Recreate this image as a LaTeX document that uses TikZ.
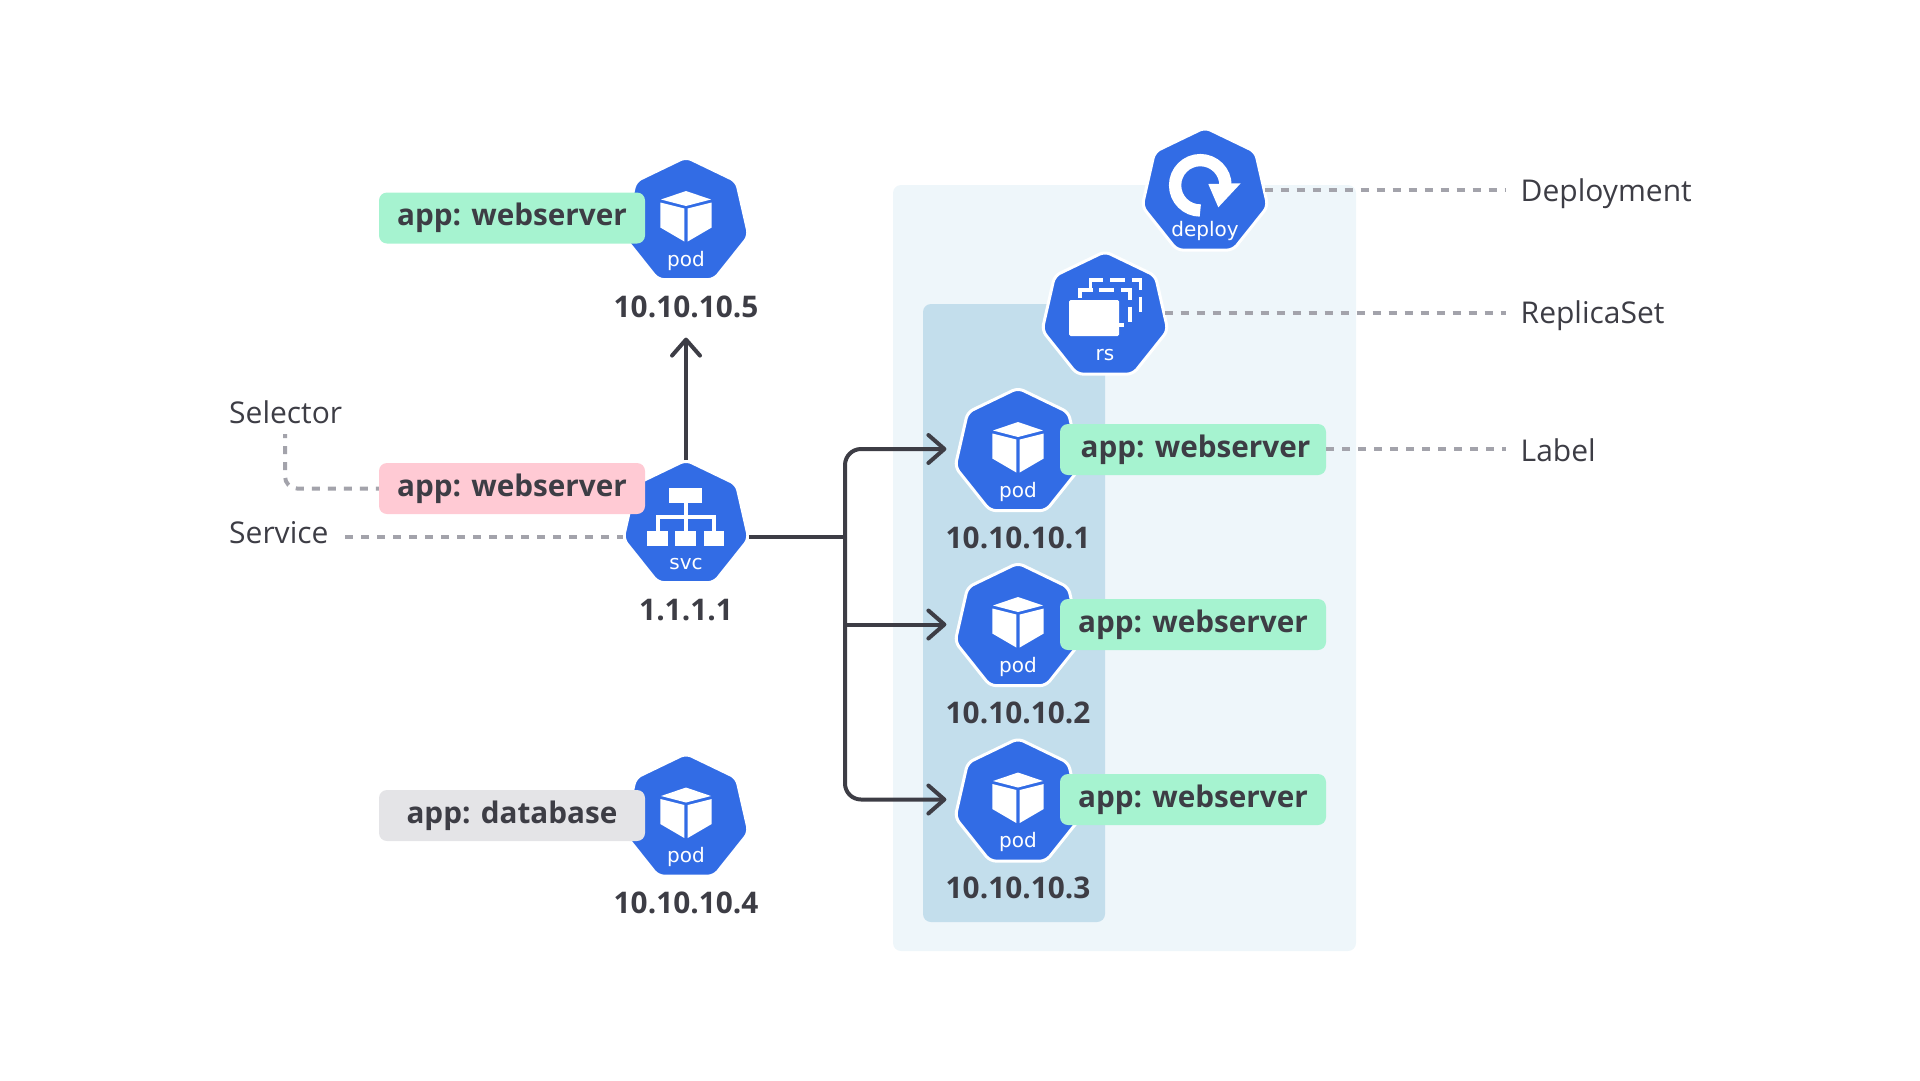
\documentclass[tikz,border=0pt]{standalone}
\usepackage{fontspec}
\setmainfont{Open Sans}
\newfontfamily\iconfont{DejaVu Sans}
\usetikzlibrary{arrows.meta,shapes.geometric}
\definecolor{kblue}{HTML}{326CE5}
\definecolor{kink}{HTML}{3D3D45}
\definecolor{kdash}{HTML}{A3A3AB}
\definecolor{kouter}{HTML}{EEF6FA}
\definecolor{kinner}{HTML}{C3DEEC}
\definecolor{kgreen}{HTML}{A6F3D0}
\definecolor{kpink}{HTML}{FFCAD4}
\definecolor{kgrey}{HTML}{E4E4E7}
\tikzset{
	hept/.style={regular polygon,regular polygon sides=7,minimum size=129pt,inner sep=0pt,outer sep=0pt,fill=kblue,draw=white,line width=3pt,rounded corners=6pt},
	hepttxt/.style={anchor=base,inner sep=0pt,text=white,font=\iconfont\fontsize{20}{24}\selectfont},
	applabel/.style={rounded corners=8pt,minimum width=266pt,minimum height=51pt,inner sep=0pt,text height=24pt,text depth=8.4pt,text=kink,font=\bfseries\fontsize{29.7}{36}\selectfont},
	iptxt/.style={anchor=base,inner sep=0pt,text=kink,font=\bfseries\fontsize{29.8}{36}\selectfont},
	calltxt/.style={anchor=base west,inner sep=0pt,text=kink,font=\fontsize{30}{36}\selectfont},
	dashline/.style={draw=kdash,line width=4pt,dash pattern=on 8pt off 8pt},
	flowline/.style={draw=kink,line width=4pt},
	flowarrow/.style={flowline,-{Straight Barb[length=16pt,width=28pt,line width=4pt,round]}},
	iconline/.style={draw=white,line width=3.3pt,dash pattern=on 20.6pt off 6.7pt on 15pt off 6.7pt on 19pt off 6.7pt on 15pt off 6.7pt}
}
% cube and caption of a pod
\newcommand{\podicon}[1]{
	\begin{scope}[shift={(#1.center)},fill=white]
		\fill (0,-30.5) -- (25,-22) -- (0,-15.5) -- (-25,-22) -- cycle;
		\fill (-25.7,-19) -- (-1.7,-13) -- (-1.7,20) -- (-25.7,6) -- cycle;
		\fill (25.7,-19) -- (1.7,-13) -- (1.7,20) -- (25.7,6) -- cycle;
	\end{scope}
	\node[hepttxt] (#1txt) at ([yshift=-44.5pt]#1.center) {pod};
}
\begin{document}
\begin{tikzpicture}[x=1pt,y=-1pt]
	\useasboundingbox (0,0) rectangle (1920,1080);
	
	% namespace boxes
	\fill[kouter,rounded corners=8pt] (893,185) rectangle (1356,951);
	\fill[kinner,rounded corners=8pt] (923,304) rectangle (1105,922);
	
	\coordinate (deploycall) at (1506,190);
	\coordinate (rscall) at (1506,313);
	\coordinate (labelcall) at (1506,449);
	\coordinate (selcall) at (285,434);
	\coordinate (svccall) at (345,537);
	\coordinate (trunk) at (845,537);
	
	\node[hept] (podE) at (686,221.5) {};
	\node[hept] (podD) at (686,818) {};
	\node[hept] (svc) at (686,524.5) {};
	\node[hept] (deploy) at (1205,192) {};
	\node[hept] (rs) at (1105,316) {};
	\node[hept] (podA) at (1018,452.5) {};
	\node[hept] (podB) at (1018,627.5) {};
	\node[hept] (podC) at (1018,803) {};
	
	\podicon{podE}
	\podicon{podD}
	\podicon{podA}
	\podicon{podB}
	\podicon{podC}
	
	% service icon
	\fill[white] (669.3,488.3) rectangle (702.3,502.7);
	\fill[white] (684,502.7) rectangle (688,531);
	\fill[white] (656,515) rectangle (715.7,519);
	\fill[white] (656,515) rectangle (659.5,531);
	\fill[white] (712.2,515) rectangle (715.7,531);
	\fill[white] (647.3,531) rectangle (668,546);
	\fill[white] (675.3,531) rectangle (696.3,546);
	\fill[white] (703.7,531) rectangle (724.3,546);
	\node[hepttxt] (svctxt) at (686,569) {svc};
	
	% deployment icon
	\draw[white,line width=12.3pt] (1200.3,210.5) arc[start angle=90,end angle=360,radius=25.2];
	\fill[white] (1208.3,184) -- (1240.7,183.3) -- (1218.3,207.3) -- cycle;
	\node[hepttxt] (deploytxt) at (1205,236.7) {deploy};
	
	% replicaset icon
	\draw[iconline] (1090.7,288) -- (1090.7,280) -- (1140.7,280) -- (1140.7,312);
	\draw[iconline] (1080,298) -- (1080,290) -- (1130,290) -- (1130,322);
	\draw[white,line width=3.3pt] (1123.5,325) -- (1119,325);
	\fill[white,rounded corners=1.5pt] (1069,300) rectangle (1119,336);
	\node[hepttxt] (rstxt) at (1105,360) {rs};
	
	\node[iptxt] (ipE) at (686,317) {10.10.10.5};
	\node[iptxt] (ipD) at (686,913.5) {10.10.10.4};
	\node[iptxt] (ipS) at (686,620) {1.1.1.1};
	\node[iptxt] (ipA) at (1018,548) {10.10.10.1};
	\node[iptxt] (ipB) at (1018,723) {10.10.10.2};
	\node[iptxt] (ipC) at (1018,898) {10.10.10.3};
	
	\node[applabel,fill=kgreen] (labE) at (512,218) {app: webserver};
	\node[applabel,fill=kpink] (labS) at (512,488.5) {app: webserver};
	\node[applabel,fill=kgrey] (labD) at (512,815.5) {app: database};
	\node[applabel,fill=kgreen] (labA) at (1193,449.5) {\hspace*{5pt}app: webserver};
	\node[applabel,fill=kgreen] (labB) at (1193,624.5) {app: webserver};
	\node[applabel,fill=kgreen] (labC) at (1193,799.5) {app: webserver};
	
	\node[calltxt] (deployname) at (1520.5,201) {Deployment};
	\node[calltxt] (rsname) at (1520.5,323) {ReplicaSet};
	\node[calltxt] (labelname) at (1520.5,461) {Label};
	\node[calltxt] (selname) at (229,423) {Selector};
	\node[calltxt] (svcname) at (229,543) {Service};
	
	\draw[dashline] (deploycall -| deploy.east) -- (deploycall);
	\draw[dashline] (rscall -| rs.east) -- (rscall);
	\draw[dashline] (labelcall -| labA.east) -- (labelcall);
	\draw[dashline] (svccall) -- (svccall -| svc.corner 3);
	\draw[dashline,dash phase=4pt,rounded corners=12pt] (selcall) |- (labS.west);
	
	\draw[flowarrow] (svc.corner 1) -- ([yshift=-20pt]ipE.south);
	\draw[flowline] (trunk -| svc.corner 6) -- (trunk);
	\draw[flowarrow,rounded corners=16pt] (trunk) |- ([shift={(-12pt,3.5pt)}]podA.west);
	\draw[flowarrow] (trunk |- podB.west) ++(0,-3) -- ([shift={(-12pt,3pt)}]podB.west);
	\draw[flowarrow,rounded corners=16pt] (trunk) |- ([shift={(-12pt,3.5pt)}]podC.west);
\end{tikzpicture}
\end{document}
